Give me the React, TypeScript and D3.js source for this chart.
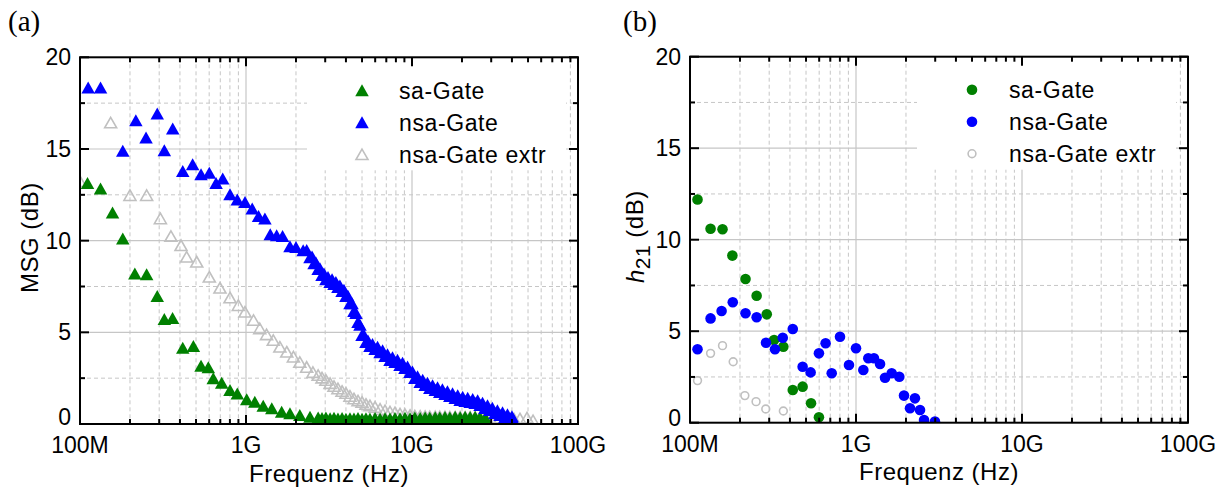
import React from 'react';
import * as d3 from 'd3';

const FONT = "'Liberation Sans', Arial, Helvetica, sans-serif";
const SERIF = "'Liberation Serif', 'Times New Roman', serif";
const GREEN = '#008000';
const BLUE = '#0000ff';
const GRAY = '#c0c0c0';
const GRID = '#c6c6c6';

// axis ticks
const xDomain = [1e8, 1e11];
const xTickValues = [1e8, 1e9, 1e10, 1e11];
const xTickLabels = ['100M', '1G', '10G', '100G'];
const yDomain = [0, 20];
const yTickValues = [0, 5, 10, 15, 20];
const yMinorValues = [2.5, 7.5, 12.5, 17.5];
const legendLabels = ['sa-Gate', 'nsa-Gate', 'nsa-Gate extr'];

// ---- panel (a): MSG ----
const msgSaFreqGHz = [0.111, 0.133, 0.157, 0.181, 0.214, 0.252, 0.292, 0.322, 0.361, 0.416, 0.482, 0.536, 0.593, 0.635, 0.714, 0.801, 0.886, 1.01, 1.13, 1.27, 1.43, 1.64, 1.84, 2.11, 2.43, 2.72, 2.87, 3.03, 3.21, 3.39, 3.58, 3.79, 4.0, 4.23, 4.47, 4.73, 5.0, 5.28, 5.58, 5.99, 6.42, 6.88, 7.37, 7.9, 8.47, 9.07, 9.73, 10.4, 11.2, 12.0, 12.8, 13.8, 14.7, 15.8, 16.9, 18.2, 19.5, 20.9, 22.4, 24.0, 25.7, 27.5, 28.3];
const msgSaValues = [13.15, 12.84, 11.54, 10.12, 8.21, 8.17, 6.98, 5.72, 5.78, 4.16, 4.25, 3.18, 3.09, 2.49, 2.25, 1.85, 1.67, 1.35, 1.22, 1.0, 0.86, 0.67, 0.58, 0.49, 0.4, 0.35, 0.33, 0.36, 0.31, 0.34, 0.3, 0.33, 0.29, 0.32, 0.3, 0.33, 0.28, 0.31, 0.3, 0.33, 0.29, 0.32, 0.3, 0.33, 0.31, 0.34, 0.31, 0.35, 0.33, 0.36, 0.34, 0.37, 0.35, 0.38, 0.36, 0.39, 0.37, 0.4, 0.38, 0.4, 0.37, 0.32, 0.18];

const msgNsaFreqGHz = [0.112, 0.133, 0.181, 0.217, 0.25, 0.292, 0.322, 0.362, 0.416, 0.477, 0.536, 0.601, 0.66, 0.724, 0.801, 0.886, 0.986, 1.09, 1.19, 1.3, 1.4, 1.53, 1.66, 1.84, 2.0, 2.21,
  2.32, 2.43, 2.5, 2.57, 2.64, 2.72, 2.79, 2.87, 2.95, 3.03, 3.12, 3.21, 3.3, 3.39, 3.48, 3.58, 3.68, 3.79, 3.89, 4.0, 4.11, 4.23, 4.35, 4.47, 4.6, 4.73, 4.86, 5.0, 5.14, 5.28, 5.43, 5.58, 5.78, 5.99, 6.2, 6.42, 6.65, 6.88, 7.12, 7.37, 7.63, 7.9, 8.18, 8.47, 8.77, 9.07, 9.4, 9.73, 10.06, 10.4, 10.8, 11.2, 11.6, 12.0, 12.4, 12.8, 13.3, 13.8, 14.25, 14.7, 15.25, 15.8, 16.35, 16.9, 17.55, 18.2, 18.85, 19.5, 20.2, 20.9, 21.65, 22.4, 23.2, 24.0, 24.85, 25.7, 26.6, 27.5, 28.5, 29.5, 30.5, 31.6, 32.7, 33.9, 35.1, 36.3, 37.6, 38.9, 40.0, 41.2];
const msgNsaValues = [18.35, 18.35, 14.9, 16.57, 15.62, 16.93, 14.93, 16.11, 13.8, 14.17, 13.62, 13.7, 13.15, 13.39, 12.53, 12.25, 12.11, 11.75, 11.34, 11.21, 10.35, 10.3, 10.25, 9.7, 9.66, 9.48,
  9.49, 9.1, 9.14, 8.77, 8.81, 8.45, 8.49, 8.12, 8.21, 7.9, 8.02, 7.74, 7.89, 7.63, 7.75, 7.47, 7.56, 7.25, 7.32, 6.98, 6.99, 6.59, 6.58, 6.16, 6.06, 5.56, 5.41, 4.85, 4.86, 4.47, 4.56, 4.25, 4.37, 4.09, 4.21, 3.92, 4.02, 3.71, 3.8, 3.49, 3.64, 3.38, 3.5, 3.22, 3.34, 3.05, 3.14, 2.83, 2.87, 2.51, 2.6, 2.29, 2.41, 2.13, 2.25, 1.96, 2.11, 1.85, 2.0, 1.74, 1.89, 1.63, 1.78, 1.53, 1.68, 1.42, 1.57, 1.31, 1.48, 1.25, 1.43, 1.2, 1.37, 1.14, 1.29, 1.04, 1.16, 0.87, 1.02, 0.76, 0.88, 0.6, 0.75, 0.49, 0.64, 0.38, 0.53, 0.27, 0.42, 0.16];

const msgExtrFreqGHz = [0.1, 0.153, 0.2, 0.252, 0.305, 0.353, 0.406, 0.439, 0.505, 0.601, 0.697, 0.801, 0.899, 0.986, 1.11, 1.21, 1.33, 1.46, 1.6, 1.76, 1.93, 2.11, 2.32, 2.53, 2.72, 2.87, 3.03, 3.21, 3.39, 3.58, 3.79, 4.0, 4.23, 4.47, 4.73, 5.0, 5.28, 5.58, 5.99, 6.42, 6.88, 7.37, 7.9, 8.47, 9.07, 9.73, 10.4, 11.2, 12.0, 12.8, 13.8, 14.7, 15.8, 16.9, 18.2, 19.5, 20.9, 22.4, 24.0, 25.7, 27.5, 29.5, 31.6, 33.9, 36.3, 38.9, 41.2, 44.7, 49.3, 53.6];
const msgExtrValues = [13.24, 16.44, 12.48, 12.48, 11.21, 10.25, 9.75, 9.12, 8.85, 8.03, 7.43, 6.9, 6.48, 6.12, 5.67, 5.21, 4.89, 4.58, 4.21, 3.94, 3.67, 3.38, 3.11, 2.83, 2.67, 2.53, 2.4, 2.23, 2.07, 1.94, 1.8, 1.69, 1.53, 1.39, 1.28, 1.2, 1.09, 1.01, 0.93, 0.82, 0.74, 0.68, 0.63, 0.57, 0.54, 0.49, 0.46, 0.44, 0.43, 0.42, 0.42, 0.41, 0.41, 0.4, 0.4, 0.4, 0.39, 0.39, 0.38, 0.38, 0.37, 0.36, 0.35, 0.34, 0.32, 0.3, 0.28, 0.3, 0.35, 0.2];

// ---- panel (b): h21 ----
const h21SaFreqGHz = [0.111, 0.133, 0.157, 0.18, 0.216, 0.252, 0.29, 0.321, 0.365, 0.416, 0.477, 0.536, 0.598];
const h21SaValues = [12.2, 10.6, 10.57, 9.13, 7.85, 6.94, 5.92, 4.52, 4.15, 1.79, 1.97, 1.06, 0.3];

const h21NsaFreqGHz = [0.111, 0.133, 0.155, 0.181, 0.216, 0.252, 0.287, 0.325, 0.362, 0.416, 0.477, 0.533, 0.598, 0.656, 0.714, 0.801, 0.907, 1.0, 1.107, 1.186, 1.283, 1.396, 1.496, 1.641, 1.823, 1.946, 2.115, 2.265, 2.43, 2.57, 2.99];
const h21NsaValues = [4.01, 5.7, 6.1, 6.58, 5.98, 5.76, 4.37, 4.01, 4.64, 5.12, 3.06, 2.75, 3.79, 4.34, 2.7, 4.7, 3.15, 4.07, 2.88, 3.52, 3.52, 3.21, 2.46, 2.7, 2.51, 1.48, 0.79, 1.33, 0.69, 0.15, 0.06];

const h21ExtrFreqGHz = [0.111, 0.133, 0.157, 0.182, 0.214, 0.25, 0.286, 0.365];
const h21ExtrValues = [2.3, 3.79, 4.21, 3.33, 1.48, 1.15, 0.75, 0.64];

type Kind = 'tri' | 'triOpen' | 'dot' | 'circleOpen';
interface Series { freq: number[]; values: number[]; color: string; kind: Kind; }

const TW = 13.5, TH = 12;
function triPath(w: number, h: number) {
  return `M0,${-h / 2}L${w / 2},${h / 2}L${-w / 2},${h / 2}Z`;
}

function Marker({ kind, color, x, y }: { kind: Kind; color: string; x: number; y: number }) {
  if (kind === 'tri') return <path d={triPath(TW, TH)} transform={`translate(${x},${y})`} fill={color} />;
  if (kind === 'triOpen') return <path d={triPath(TW - 1.5, TH - 1.5)} transform={`translate(${x},${y})`} fill="none" stroke={color} strokeWidth={1.6} />;
  if (kind === 'dot') return <circle cx={x} cy={y} r={5.3} fill={color} />;
  return <circle cx={x} cy={y} r={3.9} fill="none" stroke={color} strokeWidth={1.6} />;
}

interface PanelProps {
  id: string; left: number; right: number; top: number; bottom: number;
  series: Series[]; drawOrder: number[]; ylabel: React.ReactNode; ylabelX: number;
  panelLabel: string; panelLabelX: number; zeroShift: number;
}

function Panel({ id, left, right, top, bottom, series, drawOrder, ylabel, ylabelX, panelLabel, panelLabelX, zeroShift }: PanelProps) {
  const x = d3.scaleLog().domain(xDomain).range([left, right]);
  const y = d3.scaleLinear().domain(yDomain).range([bottom, top]);
  const allX = x.ticks();
  const isMajor = (v: number) => xTickValues.some(m => Math.abs(m - v) / m < 1e-6);
  const minorX = allX.filter(v => !isMajor(v));
  const majorLen = 9, minorLen = 5;
  const legX = left + 282, legTX = left + 319;
  const legY = [top + 33, top + 65, top + 97];
  const cx = (left + right) / 2;
  const cy = (top + bottom) / 2;
  return (
    <g>
      <defs>
        <clipPath id={`clip-${id}`}>
          <rect x={left} y={top} width={right - left} height={bottom - top} />
        </clipPath>
      </defs>
      {/* grid */}
      {minorX.map((v, i) => (
        <line key={`mx${i}`} x1={x(v)} x2={x(v)} y1={top} y2={bottom} stroke={GRID} strokeWidth={1} strokeDasharray="4,3" />
      ))}
      {yMinorValues.map((v, i) => (
        <line key={`my${i}`} x1={left} x2={right} y1={y(v)} y2={y(v)} stroke={GRID} strokeWidth={1} strokeDasharray="4,3" />
      ))}
      {xTickValues.slice(1, -1).map((v, i) => (
        <line key={`Mx${i}`} x1={x(v)} x2={x(v)} y1={top} y2={bottom} stroke={GRID} strokeWidth={1.2} />
      ))}
      {yTickValues.slice(1, -1).map((v, i) => (
        <line key={`My${i}`} x1={left} x2={right} y1={y(v)} y2={y(v)} stroke={GRID} strokeWidth={1.2} />
      ))}
      {/* legend */}
      <rect x={left + 227} y={top + 1} width={259} height={112} fill="#fff" />
      {series.map((s, i) => (
        <g key={`lg${i}`}>
          <Marker kind={s.kind} color={s.color} x={legX} y={legY[i]} />
          <text x={legTX} y={legY[i] + 8.5} fontFamily={FONT} fontSize={23} fill="#000" letterSpacing={0.6}>{legendLabels[i]}</text>
        </g>
      ))}
      {/* data */}
      <g clipPath={`url(#clip-${id})`}>
        {drawOrder.map(si => {
          const s = series[si];
          return (
            <g key={`s${si}`}>
              {s.freq.map((f, i) => (
                <Marker key={i} kind={s.kind} color={s.color} x={x(f * 1e9)} y={y(s.values[i])} />
              ))}
            </g>
          );
        })}
      </g>
      {/* ticks */}
      {allX.map((v, i) => {
        const len = isMajor(v) ? majorLen : minorLen;
        return (
          <g key={`tx${i}`}>
            <line x1={x(v)} x2={x(v)} y1={bottom} y2={bottom - len} stroke="#000" strokeWidth={2} />
            <line x1={x(v)} x2={x(v)} y1={top} y2={top + len} stroke="#000" strokeWidth={2} />
          </g>
        );
      })}
      {[...yTickValues.map(v => ({ v, len: majorLen })), ...yMinorValues.map(v => ({ v, len: minorLen }))].map((t, i) => (
        <g key={`ty${i}`}>
          <line x1={left} x2={left + t.len} y1={y(t.v)} y2={y(t.v)} stroke="#000" strokeWidth={2} />
          <line x1={right} x2={right - t.len} y1={y(t.v)} y2={y(t.v)} stroke="#000" strokeWidth={2} />
        </g>
      ))}
      <rect x={left} y={top} width={right - left} height={bottom - top} fill="none" stroke="#000" strokeWidth={2} />
      {/* tick labels */}
      {xTickValues.map((v, i) => (
        <text key={`xl${i}`} x={x(v)} y={bottom + 29} textAnchor="middle" fontFamily={FONT} fontSize={23} fill="#000">{xTickLabels[i]}</text>
      ))}
      {yTickValues.map((v, i) => (
        <text key={`yl${i}`} x={left - 9} y={y(v) - (v === 0 ? zeroShift : 0)} dy="0.35em" textAnchor="end" fontFamily={FONT} fontSize={23} fill="#000">{v}</text>
      ))}
      <text x={cx} y={bottom + 57.5} textAnchor="middle" fontFamily={FONT} fontSize={24} fill="#000" letterSpacing={0.5}>Frequenz (Hz)</text>
      <text transform={`translate(${ylabelX},${cy - 3}) rotate(-90)`} textAnchor="middle" fontFamily={FONT} fontSize={24} fill="#000" letterSpacing={0.5}>{ylabel}</text>
      <text x={panelLabelX} y={31} fontFamily={SERIF} fontSize={29} fill="#000">{panelLabel}</text>
    </g>
  );
}

export default function App() {
  const seriesA: Series[] = [
    { freq: msgSaFreqGHz, values: msgSaValues, color: GREEN, kind: 'tri' },
    { freq: msgNsaFreqGHz, values: msgNsaValues, color: BLUE, kind: 'tri' },
    { freq: msgExtrFreqGHz, values: msgExtrValues, color: GRAY, kind: 'triOpen' },
  ];
  const seriesB: Series[] = [
    { freq: h21SaFreqGHz, values: h21SaValues, color: GREEN, kind: 'dot' },
    { freq: h21NsaFreqGHz, values: h21NsaValues, color: BLUE, kind: 'dot' },
    { freq: h21ExtrFreqGHz, values: h21ExtrValues, color: GRAY, kind: 'circleOpen' },
  ];
  return (
    <svg width={1225} height={490} style={{ position: 'absolute', left: 0, top: 0, background: '#fff' }}>
      <rect width={1225} height={490} fill="#fff" />
      <Panel id="a" left={80} right={578} top={57.3} bottom={424} series={seriesA} drawOrder={[2, 0, 1]}
        ylabel="MSG (dB)" ylabelX={38} panelLabel="(a)" panelLabelX={8} zeroShift={7} />
      <Panel id="b" left={690} right={1188} top={56.7} bottom={422.7} series={seriesB} drawOrder={[2, 0, 1]}
        ylabel={<>
          <tspan fontStyle="italic">h</tspan>
          <tspan dy="0.3em" fontSize={21}>21</tspan>
          <tspan dy="-0.3em"> (dB)</tspan>
        </>} ylabelX={644} panelLabel="(b)" panelLabelX={623} zeroShift={5} />
    </svg>
  );
}
